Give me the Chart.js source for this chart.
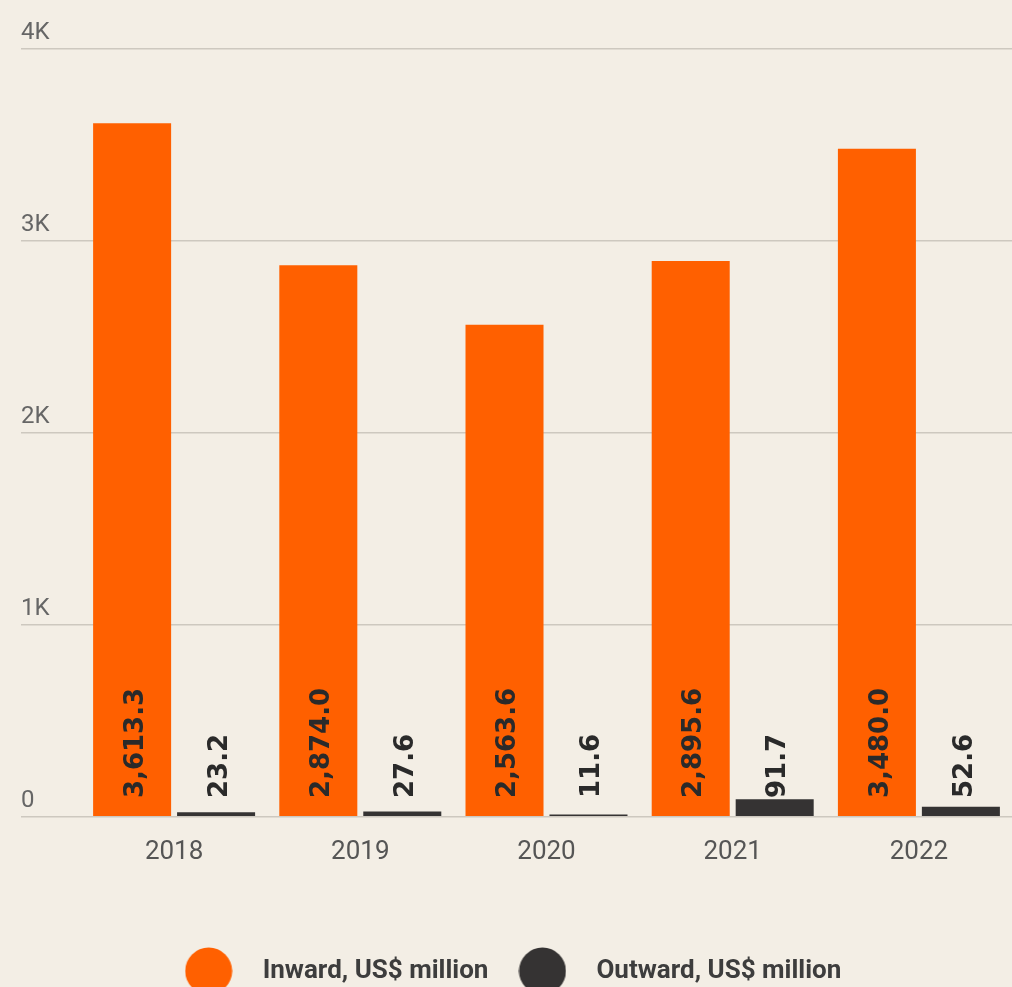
<!DOCTYPE html>
<html>
<head>
<meta charset="utf-8">
<script src="https://cdn.jsdelivr.net/npm/chart.js@4/dist/chart.umd.min.js"></script>
<style>
  html, body { margin: 0; padding: 0; background: #f3eee5; }
  #wrap { width: 1012px; height: 987px; position: relative; }
</style>
</head>
<body>
<div id="wrap"><canvas id="fdi"></canvas></div>
<script>
// FDI flows by year, US$ million
const years = ['2018', '2019', '2020', '2021', '2022'];
const inward = [3613.3, 2874.0, 2563.6, 2895.6, 3480.0];
const outward = [23.2, 27.6, 11.6, 91.7, 52.6];
const seriesNames = ['Inward, US$ million', 'Outward, US$ million'];
const yTicks = [0, 1000, 2000, 3000, 4000];
const yTickLabels = ['0', '1K', '2K', '3K', '4K'];

const ORANGE = '#ff6000';
const DARK = '#353333';

// round legend markers, larger than the legend font allows by default
function dot(color) {
  const c = document.createElement('canvas');
  c.width = 48; c.height = 48;
  const g = c.getContext('2d');
  g.fillStyle = color;
  g.beginPath();
  g.arc(24, 24, 23.5, 0, Math.PI * 2);
  g.fill();
  return c;
}
const dots = [dot(ORANGE), dot(DARK)];

// value labels, rotated, sitting just above the baseline of each bar
const valueLabels = {
  id: 'valueLabels',
  afterDatasetsDraw(chart) {
    const ctx = chart.ctx;
    ctx.save();
    ctx.font = 'bold 26px "DejaVu Sans"';
    ctx.fillStyle = '#2a2a2a';
    ctx.textAlign = 'left';
    ctx.textBaseline = 'middle';
    chart.data.datasets.forEach((ds, di) => {
      const meta = chart.getDatasetMeta(di);
      meta.data.forEach((bar, i) => {
        const v = ds.data[i];
        const txt = v.toLocaleString('en-US', { minimumFractionDigits: 1, maximumFractionDigits: 1 });
        ctx.save();
        ctx.translate(bar.x + 4, bar.base - 18);
        ctx.rotate(-Math.PI / 2);
        ctx.fillText(txt, 0, 0);
        ctx.restore();
      });
    });
    ctx.restore();
  }
};

// nudge the legend row a little to the left of the canvas centre
const legendNudge = {
  id: 'legendNudge',
  afterLayout(chart) {
    if (chart.legend) {
      chart.legend.left -= 12;
      chart.legend.right -= 12;
    }
  }
};

new Chart(document.getElementById('fdi'), {
  type: 'bar',
  data: {
    labels: years,
    datasets: [
      { label: seriesNames[0], data: inward, backgroundColor: ORANGE },
      { label: seriesNames[1], data: outward, backgroundColor: DARK }
    ]
  },
  options: {
    responsive: true,
    maintainAspectRatio: false,
    animation: false,
    devicePixelRatio: 1,
    categoryPercentage: 0.902,
    barPercentage: 0.929,
    layout: { padding: { left: 21, right: 0, top: 49, bottom: -7 } },
    plugins: {
      tooltip: { enabled: false },
      legend: {
        position: 'bottom',
        labels: {
          usePointStyle: true,
          pointStyleWidth: 82,
          padding: 13,
          color: '#3d3d3d',
          font: { family: 'Roboto', size: 26, weight: 'bold' },
          generateLabels(chart) {
            const items = Chart.defaults.plugins.legend.labels.generateLabels(chart);
            items.forEach((it, i) => { it.pointStyle = dots[i]; });
            return items;
          }
        }
      }
    },
    scales: {
      x: {
        grid: { display: false, drawTicks: false },
        border: { display: false },
        ticks: {
          color: '#555',
          padding: 20,
          font: { family: 'Roboto', size: 26 }
        },
        afterFit(scale) { scale.height += 57; }
      },
      y: {
        min: 0,
        max: 4000,
        afterBuildTicks(scale) { scale.ticks = yTicks.map(v => ({ value: v })); },
        grid: { color: '#cdc8bf', lineWidth: 1.5, drawTicks: true, tickLength: 60, tickColor: '#cdc8bf' },
        border: { display: false },
        ticks: {
          crossAlign: 'far',
          labelOffset: -16,
          padding: 0,
          color: '#666',
          font: { family: 'Roboto', size: 24 },
          callback(value) { return yTickLabels[yTicks.indexOf(value)]; }
        },
        afterFit(scale) { scale.width = 60; }
      }
    }
  },
  plugins: [valueLabels, legendNudge]
});
</script>
</body>
</html>
